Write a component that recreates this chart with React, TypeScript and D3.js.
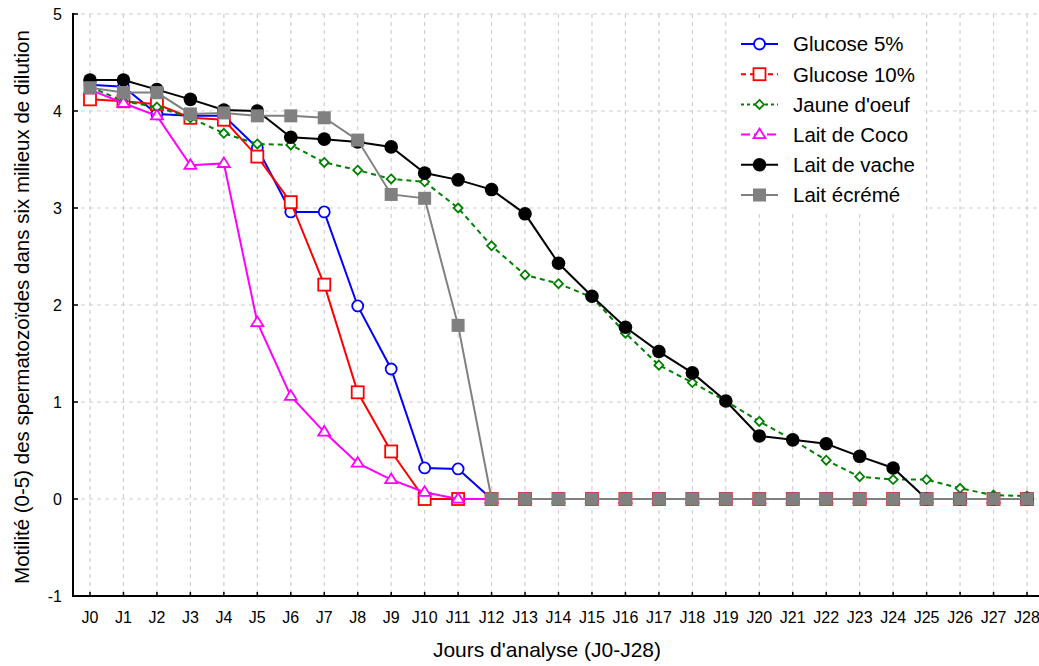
import * as d3 from "d3";
import { useEffect, useRef } from "react";

const days = d3.range(0, 29).map((d) => `J${d}`);
const yTicks = [-1, 0, 1, 2, 3, 4, 5];

const glucose5 = [4.27, 4.25, 3.97, 3.95, 3.95, 3.62, 2.96, 2.96, 1.99, 1.34, 0.32, 0.31, 0, 0, 0, 0, 0, 0, 0, 0, 0, 0, 0, 0, 0, 0, 0, 0, 0];
const glucose10 = [4.12, 4.1, 4.07, 3.93, 3.91, 3.53, 3.06, 2.21, 1.1, 0.49, 0, 0, 0, 0, 0, 0, 0, 0, 0, 0, 0, 0, 0, 0, 0, 0, 0, 0, 0];
const jaune = [4.25, 4.1, 4.04, 3.93, 3.77, 3.66, 3.65, 3.47, 3.39, 3.3, 3.27, 3.0, 2.61, 2.31, 2.22, 2.08, 1.71, 1.38, 1.2, 1.01, 0.8, 0.61, 0.4, 0.23, 0.2, 0.2, 0.11, 0.04, 0.03];
const coco = [4.22, 4.08, 3.95, 3.44, 3.46, 1.82, 1.06, 0.69, 0.37, 0.2, 0.07, 0, 0, 0, 0, 0, 0, 0, 0, 0, 0, 0, 0, 0, 0, 0, 0, 0, 0];
const vache = [4.32, 4.32, 4.22, 4.12, 4.01, 4.0, 3.73, 3.71, 3.68, 3.63, 3.36, 3.29, 3.19, 2.94, 2.43, 2.09, 1.77, 1.52, 1.3, 1.01, 0.65, 0.61, 0.57, 0.44, 0.32, 0, 0, 0, 0];
const ecreme = [4.24, 4.19, 4.19, 3.97, 3.98, 3.95, 3.95, 3.93, 3.7, 3.14, 3.1, 1.79, 0, 0, 0, 0, 0, 0, 0, 0, 0, 0, 0, 0, 0, 0, 0, 0, 0];

type Marker = "circle" | "square" | "diamond" | "triangle" | "dot" | "fsquare";

const series: {
  name: string;
  values: number[];
  color: string;
  marker: Marker;
  dash: string | null;
  legendDash: string | null;
}[] = [
  { name: "Glucose 5%", values: glucose5, color: "#0000ff", marker: "circle", dash: null, legendDash: null },
  { name: "Glucose 10%", values: glucose10, color: "#ff0000", marker: "square", dash: null, legendDash: "5,4" },
  { name: "Jaune d'oeuf", values: jaune, color: "#008000", marker: "diamond", dash: "5,4", legendDash: "3,3" },
  { name: "Lait de Coco", values: coco, color: "#ff00ff", marker: "triangle", dash: null, legendDash: "9,4" },
  { name: "Lait de vache", values: vache, color: "#000000", marker: "dot", dash: null, legendDash: null },
  { name: "Lait écrémé", values: ecreme, color: "#808080", marker: "fsquare", dash: null, legendDash: null },
];

const FONT = "'Liberation Sans', Arial, sans-serif";

const App = () => {
  const svgRef = useRef<SVGSVGElement>(null);

  useEffect(() => {
    const W = 1039;
    const H = 666;
    const left = 73;
    const right = 1039;
    const top = 14;
    const bottom = 596;

    const svg = d3.select(svgRef.current);
    svg.selectAll("*").remove();

    const x = d3
      .scalePoint<string>()
      .domain(days)
      .range([90, 1027]);
    const y = d3.scaleLinear().domain([-1, 5]).range([bottom, top]);

    svg.append("rect").attr("width", W).attr("height", H).attr("fill", "#fff");

    // grid
    const grid = svg.append("g").attr("stroke", "#d0d0d0").attr("stroke-width", 1.2).attr("stroke-dasharray", "4,4");
    days.forEach((d) => {
      grid.append("line").attr("x1", x(d)!).attr("x2", x(d)!).attr("y1", top).attr("y2", bottom);
    });
    yTicks.forEach((t) => {
      if (t === -1) return;
      grid.append("line").attr("x1", left).attr("x2", right).attr("y1", y(t)).attr("y2", y(t));
    });

    const drawMarker = (g: d3.Selection<SVGGElement, unknown, null, undefined>, m: Marker, cx: number, cy: number, color: string) => {
      if (m === "circle") {
        g.append("circle").attr("cx", cx).attr("cy", cy).attr("r", 5.5).attr("fill", "#fff").attr("stroke", color).attr("stroke-width", 1.8);
      } else if (m === "square") {
        g.append("rect").attr("x", cx - 6).attr("y", cy - 6).attr("width", 12).attr("height", 12).attr("fill", "#fff").attr("stroke", color).attr("stroke-width", 1.8);
      } else if (m === "diamond") {
        const s = 4.5;
        g.append("path")
          .attr("d", `M${cx},${cy - s}L${cx + s},${cy}L${cx},${cy + s}L${cx - s},${cy}Z`)
          .attr("fill", "#fff").attr("stroke", color).attr("stroke-width", 1.8);
      } else if (m === "triangle") {
        const s = 6;
        g.append("path")
          .attr("d", `M${cx},${cy - s}L${cx + s},${cy + s * 0.6}L${cx - s},${cy + s * 0.6}Z`)
          .attr("fill", "#fff").attr("stroke", color).attr("stroke-width", 1.8);
      } else if (m === "dot") {
        g.append("circle").attr("cx", cx).attr("cy", cy).attr("r", 6.8).attr("fill", color);
      } else {
        g.append("rect").attr("x", cx - 6.5).attr("y", cy - 6.5).attr("width", 13).attr("height", 13).attr("fill", color);
      }
    };

    const line = d3
      .line<number>()
      .x((_, i) => x(days[i])!)
      .y((v) => y(v));

    series.forEach((s) => {
      const g = svg.append("g");
      g.append("path")
        .attr("d", line(s.values))
        .attr("fill", "none")
        .attr("stroke", s.color)
        .attr("stroke-width", 2)
        .attr("stroke-dasharray", s.dash);
      s.values.forEach((v, i) => drawMarker(g, s.marker, x(days[i])!, y(v), s.color));
    });

    // axes
    const ax = svg.append("g").attr("stroke", "#000");
    ax.append("line").attr("x1", left).attr("x2", left).attr("y1", top - 1).attr("y2", bottom + 1).attr("stroke-width", 2);
    ax.append("line").attr("x1", left - 1).attr("x2", right).attr("y1", bottom).attr("y2", bottom).attr("stroke-width", 2);
    yTicks.forEach((t) => {
      ax.append("line").attr("x1", left).attr("x2", left + 5).attr("y1", y(t)).attr("y2", y(t)).attr("stroke-width", 1.5);
      svg.append("text")
        .attr("x", 62).attr("y", y(t)).attr("dy", "0.35em")
        .attr("text-anchor", "end").attr("font-family", FONT).attr("font-size", 16)
        .text(t);
    });
    days.forEach((d) => {
      ax.append("line").attr("x1", x(d)!).attr("x2", x(d)!).attr("y1", bottom).attr("y2", bottom - 4).attr("stroke-width", 1.5);
      svg.append("text")
        .attr("x", x(d)!).attr("y", 623)
        .attr("text-anchor", "middle").attr("font-family", FONT).attr("font-size", 16)
        .text(d);
    });

    svg.append("text")
      .attr("x", 547).attr("y", 657)
      .attr("text-anchor", "middle").attr("font-family", FONT).attr("font-size", 21)
      .text("Jours d'analyse (J0-J28)");

    svg.append("text")
      .attr("transform", `translate(29,${(top + bottom) / 2 + 2}) rotate(-90)`)
      .attr("text-anchor", "middle").attr("font-family", FONT).attr("font-size", 20.5)
      .text("Motilité (0-5) des spermatozoïdes dans six milieux de dilution");

    // legend
    const lg = svg.append("g");
    lg.append("rect").attr("x", 728).attr("y", 22).attr("width", 196).attr("height", 190).attr("fill", "#fff");
    series.forEach((s, i) => {
      const cy = 44 + i * 30.2;
      lg.append("line")
        .attr("x1", 741).attr("x2", 778).attr("y1", cy).attr("y2", cy)
        .attr("stroke", s.color).attr("stroke-width", 2)
        .attr("stroke-dasharray", s.legendDash);
      drawMarker(lg, s.marker, 759.5, cy, s.color);
      lg.append("text")
        .attr("x", 793).attr("y", cy).attr("dy", "0.36em")
        .attr("font-family", FONT).attr("font-size", 20.5)
        .text(s.name);
    });
  }, []);

  return (
    <svg
      ref={svgRef}
      width={1039}
      height={666}
      style={{ position: "absolute", left: 0, top: 0, display: "block" }}
    />
  );
};

export default App;
